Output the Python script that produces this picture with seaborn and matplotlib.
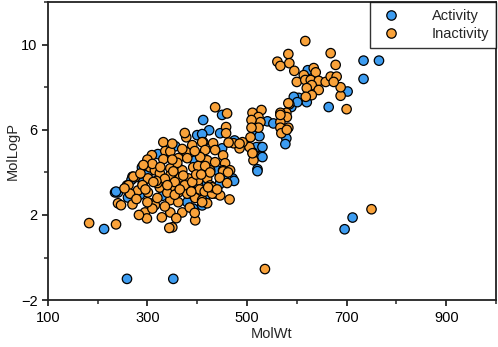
import numpy as np
import pandas as pd
import matplotlib
matplotlib.use("Agg")
import matplotlib.pyplot as plt
from matplotlib.ticker import FixedLocator
import seaborn as sns

# Activity (blue) points: MolWt, MolLogP
act_wt = [259, 352, 213, 696, 712, 734, 765, 734, 702, 664, 622, 620, 604, 594, 589,
          579, 577, 541, 553, 515, 525, 529, 519, 529, 521, 450, 412, 424, 446, 475,
          531, 531, 601, 450, 400, 410, 356, 321, 289, 291, 241, 235, 261, 416, 410,
          471, 474, 521, 237, 285, 300, 330, 360, 385, 395, 440, 455, 300, 270, 445,
          380, 330, 420, 268, 392]
act_logp = [-1.0, -1.0, 1.34, 1.33, 1.88, 9.25, 9.25, 8.39, 7.8, 7.07, 8.8, 7.3, 7.5, 7.55, 7.07,
            5.6, 5.33, 6.4, 6.3, 5.94, 5.7, 5.19, 5.19, 4.76, 4.15, 6.7, 6.46, 5.98, 5.84, 5.5,
            5.19, 4.72, 7.3, 5.13, 5.75, 5.8, 5.23, 4.86, 4.24, 3.53, 3.06, 3.06, 2.82, 2.84, 2.45,
            3.72, 3.6, 4.06, 3.1, 2.95, 3.9, 3.6, 4.3, 3.3, 4.55, 4.1, 3.9, 4.5, 3.8, 3.45,
            2.6, 2.9, 3.5, 3.65, 2.3]

# Inactivity (orange) points: MolWt, MolLogP
inact_wt = [617, 583, 561, 567, 585, 595, 668, 678, 700, 688, 688, 634, 638, 614, 600,
            617, 628, 644, 658, 668, 680, 674, 630, 620, 644, 630, 618, 585, 583, 579,
            567, 580, 567, 583, 567, 569, 529, 511, 523, 527, 509, 523, 509, 507, 511,
            513, 505, 491, 485, 511, 536, 750, 567, 580,
            436, 460, 458, 458, 412, 432, 436, 452, 420, 436, 456, 452, 466, 426, 378,
            410, 390, 332, 336, 346, 378, 416, 309, 332, 362, 380, 406, 305, 315, 346,
            370, 392, 402, 416, 275, 301, 325, 346, 366, 382, 402, 420, 259, 281, 301,
            325, 350, 362, 380, 396, 410, 346, 362, 241, 247, 305, 315, 295, 299, 329,
            346, 370, 350, 396, 237, 183, 344, 426, 426, 436, 446, 465, 420, 410, 452,
            462, 473, 485, 463, 300, 310, 262, 272, 286, 265, 290, 320, 335, 355, 375,
            390, 405, 415, 430, 340, 355, 320, 310, 335, 385, 395, 358, 300, 270, 283,
            360, 350, 370, 395, 350, 375, 460, 398, 430, 445, 318, 340, 292, 254, 278,
            365, 388, 408, 422, 440, 352, 372, 326, 312, 296]
inact_logp = [10.17, 9.56, 9.2, 9.0, 9.13, 8.77, 9.6, 9.05, 6.97, 7.6, 8.0, 8.9, 8.7, 8.57, 8.25,
              8.34, 8.34, 8.3, 8.25, 8.5, 8.5, 8.25, 8.1, 7.96, 7.87, 7.63, 7.55, 7.2, 7.25, 6.8,
              6.8, 6.6, 6.36, 6.1, 6.1, 5.84, 6.93, 6.8, 6.6, 6.36, 6.46, 6.1, 6.1, 5.65, 4.95,
              4.57, 5.19, 5.42, 5.13, 4.9, -0.54, 2.27, 6.7, 6.0,
              7.06, 6.77, 6.13, 5.84, 5.42, 5.37, 5.05, 4.8, 4.57, 4.48, 4.43, 4.1, 4.1, 4.1, 5.65,
              5.42, 5.28, 5.42, 5.0, 4.98, 4.95, 5.05, 4.81, 4.62, 4.67, 4.67, 4.72, 4.24, 4.1, 4.19,
              4.1, 4.24, 4.3, 4.3, 3.77, 3.72, 3.96, 3.86, 3.77, 3.72, 3.63, 3.72, 3.39, 3.15, 3.06,
              3.29, 3.25, 3.06, 3.0, 2.8, 2.7, 2.7, 2.6, 2.55, 2.46, 2.55, 2.46, 2.12, 1.84, 1.89,
              2.12, 2.12, 1.42, 1.75, 1.56, 1.62, 1.39, 4.0, 3.39, 3.01, 2.92, 2.73, 2.55, 2.6, 4.05,
              4.0, 5.37, 5.35, 5.4, 4.6, 4.4, 3.4, 3.8, 3.95, 3.0, 3.4, 3.5, 3.7, 3.55, 3.4,
              3.55, 3.2, 3.1, 3.0, 3.05, 2.95, 2.8, 2.3, 2.4, 2.35, 2.1, 1.85, 2.6, 2.5, 2.0,
              4.45, 4.6, 5.1, 5.0, 5.35, 5.85, 3.5, 3.9, 3.3, 3.75, 3.6, 3.4, 4.35, 3.25, 2.75,
              3.2, 3.1, 3.9, 3.3, 3.2, 4.05, 3.85, 4.25, 3.55, 3.2]

x_major = [100, 300, 500, 700, 900]
x_minor = [200, 400, 600, 800, 1000]
y_major = [-2, 2, 6, 10]
y_minor = [0, 4, 8, 12]

df = pd.concat([
    pd.DataFrame({"MolWt": act_wt, "MolLogP": act_logp, "Class": "Activity"}),
    pd.DataFrame({"MolWt": inact_wt, "MolLogP": inact_logp, "Class": "Inactivity"}),
], ignore_index=True)

sns.set_style("white")
plt.rcParams["font.family"] = ["Liberation Sans", "DejaVu Sans"]
plt.rcParams["font.size"] = 10.5

fig = plt.figure(figsize=(4.98, 3.47), dpi=100)
ax = fig.add_axes([0.096, 0.135, 0.9, 0.859])

sns.scatterplot(data=df, x="MolWt", y="MolLogP", hue="Class",
                palette={"Activity": "#3d9cf0", "Inactivity": "#f9a23a"},
                s=46, edgecolor="black", linewidth=0.9, ax=ax)

ax.set_xlim(100, 1000)
ax.set_ylim(-2, 12)
ax.xaxis.set_major_locator(FixedLocator(x_major))
ax.xaxis.set_minor_locator(FixedLocator(x_minor))
ax.yaxis.set_major_locator(FixedLocator(y_major))
ax.yaxis.set_minor_locator(FixedLocator(y_minor))
ax.tick_params(which="major", direction="out", length=4, width=1.1, colors="black",
               bottom=True, left=True, top=False, right=False, labelsize=10.5)
ax.tick_params(which="minor", direction="out", length=3, width=1.1,
               bottom=True, left=True, top=False, right=False)
for sp in ax.spines.values():
    sp.set_linewidth(1.3)
    sp.set_color("#222222")

ax.set_xlabel("MolWt", fontsize=10.5, labelpad=2)
ax.set_ylabel("MolLogP", fontsize=10.5, labelpad=1)

leg = ax.legend(loc="upper right", borderaxespad=0, frameon=True, fancybox=False,
                fontsize=10.5, handletextpad=1.8, borderpad=0.45, labelspacing=0.3)
leg.get_frame().set_edgecolor("black")
leg.get_frame().set_linewidth(1.0)

fig.savefig("out.png", dpi=100)
